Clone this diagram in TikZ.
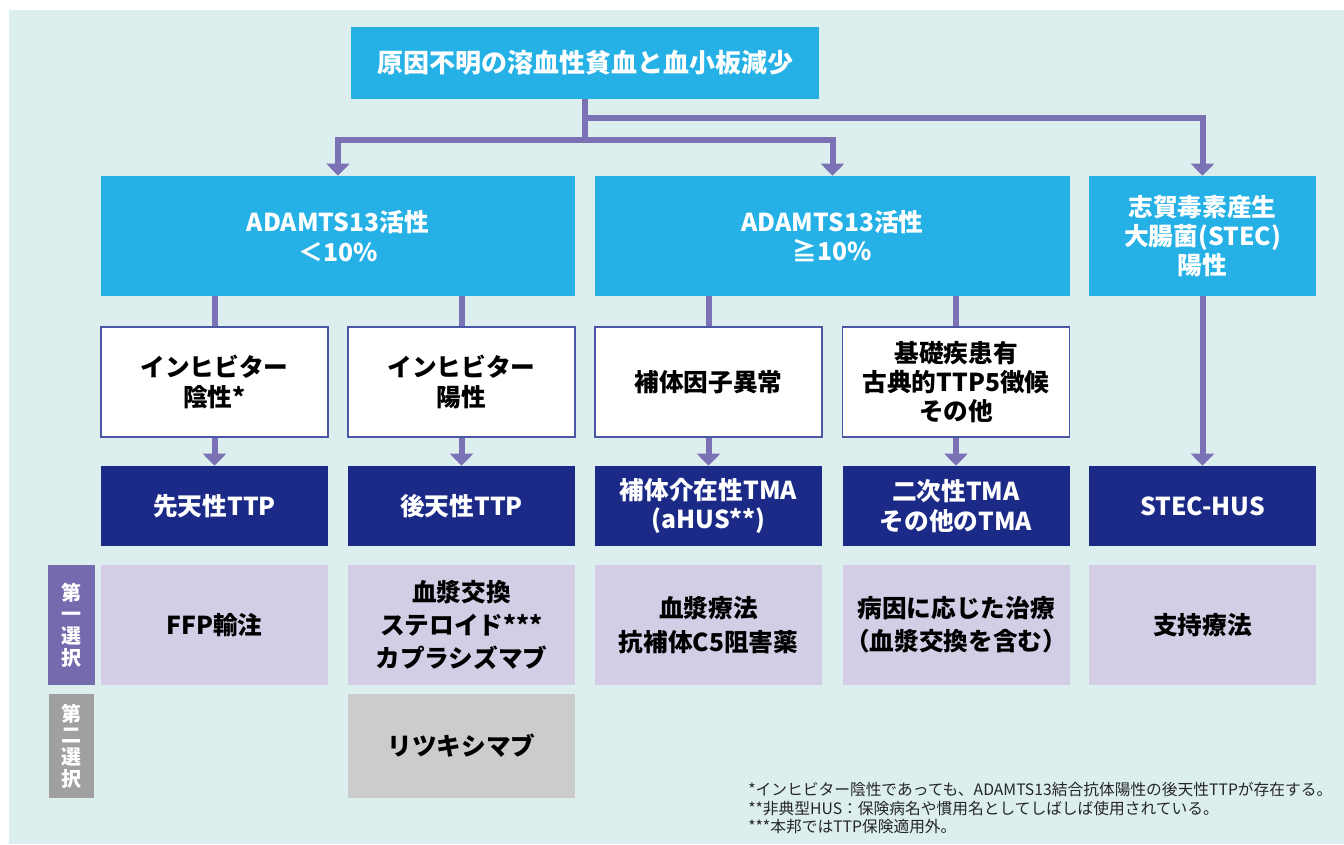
\documentclass[tikz,border=0pt]{standalone}
\usepackage{fontspec}
\setmainfont{Noto Sans CJK JP}
\usetikzlibrary{arrows.meta}
\definecolor{bgteal}{HTML}{DCEEEE}
\definecolor{skyblue}{HTML}{25B1E6}
\definecolor{navyblue}{HTML}{1B2A86}
\definecolor{lavender}{HTML}{D3CEE6}
\definecolor{linkpurple}{HTML}{7B71B5}
\definecolor{badgepurple}{HTML}{766AAF}
\definecolor{badgegrey}{HTML}{A0A0A0}
\definecolor{boxgrey}{HTML}{CCCCCC}
\definecolor{edgeblue}{HTML}{4A57A4}
\tikzset{
	flowbox/.style = {align=center, inner sep=0pt,
		font=\bfseries\fontsize{18.5}{22}\selectfont},
	pxsize/.style 2 args = {minimum width=#1*0.75pt, minimum height=#2*0.75pt},
	sky_b/.style = {flowbox, fill=skyblue, text=white},% boite bleu clair
	wht_b/.style = {flowbox, fill=white, draw=edgeblue, line width=1pt,
		pxsize={227}{110}},% boite blanche
	nav_b/.style = {flowbox, fill=navyblue, text=white, pxsize={227}{80}},% diagnostic
	lav_b/.style = {flowbox, fill=lavender, pxsize={227}{120},
		font=\bfseries\fontsize{18.5}{25}\selectfont},% premier choix
	gry_b/.style = {flowbox, fill=boxgrey, pxsize={227}{104}},% second choix
	badge/.style = {align=center, inner sep=0pt, text=white,
		font=\bfseries\fontsize{15}{16.3}\selectfont},
	link/.style = {draw=linkpurple, line width=4.5pt}
}
\begin{document}
\begin{tikzpicture}[x=0.75pt, y=-0.75pt,
	>={Triangle[width=17pt, length=9pt]}]
\useasboundingbox (0,0) rectangle (1344,844);
\fill[bgteal] (9,10) rectangle (1344,844);

% top
\node [sky_b, pxsize={468}{72}, font=\bfseries\fontsize{19.5}{24}\selectfont]
	(cause) at (585,63) {原因不明の溶血性貧血と血小板減少};

% ADAMTS13 / STEC
\node [sky_b, pxsize={474}{120}] (adlow)  at (338,236)    {ADAMTS13活性\\＜10\%};
\node [sky_b, pxsize={475}{120}] (adhigh) at (832.5,236)  {ADAMTS13活性\\≧10\%};
\node [sky_b, pxsize={227}{120}] (stec)   at (1202.5,236) {志賀毒素産生\\大腸菌(STEC)\\陽性};

% sous-groupes
\node [wht_b] (inhneg) at (214.5,382) {インヒビター\\陰性*};
\node [wht_b] (inhpos) at (461.5,382) {インヒビター\\陽性};
\node [wht_b] (compl)  at (708.5,382) {補体因子異常};
\node [wht_b] (other)  at (956,382)   {基礎疾患有\\古典的TTP5徴候\\その他};

% diagnostics
\node [nav_b] (congen)  at (214.5,506)  {先天性TTP};
\node [nav_b] (acq)     at (461.5,506)  {後天性TTP};
\node [nav_b] (ahus)    at (708.5,506)  {補体介在性TMA\\(aHUS**)};
\node [nav_b] (sectma)  at (956,506)    {二次性TMA\\その他のTMA};
\node [nav_b] (stechus) at (1202.5,506) {STEC-HUS};

% traitements
\node [badge, fill=badgepurple, pxsize={47}{120}] (first) at (71.5,625) {第\\一\\選\\択};
\node [lav_b] (ffp)     at (214.5,625)  {FFP輸注};
\node [lav_b] (pex)     at (461.5,625)  {血漿交換\\ステロイド***\\カプラシズマブ};
\node [lav_b] (plasma)  at (708.5,625)  {血漿療法\\抗補体C5阻害薬};
\node [lav_b] (treat)   at (956,625)    {病因に応じた治療\\（血漿交換を含む）};
\node [lav_b] (support) at (1202.5,625) {支持療法};
\node [badge, fill=badgegrey, pxsize={45}{104}] (second) at (71.5,746) {第\\二\\選\\択};
\node [gry_b] (ritux)   at (461.5,746)  {リツキシマブ};

% notes
\node [align=left, inner sep=0pt, anchor=west, text=black!85,
	font=\fontsize{11.8}{14}\selectfont] (foot) at (748,808)
	{*インヒビター陰性であっても、ADAMTS13結合抗体陽性の後天性TTPが存在する。\\
	 **非典型HUS：保険病名や慣用名としてしばしば使用されている。\\
	 ***本邦ではTTP保険適用外。};

% liens
\coordinate (split)  at (585,140);
\coordinate (splitR) at (585,118);
\draw [link] (cause.south) -- (split);
\draw [link,->] (split) -| (adlow.north);
\draw [link,->] (split) -| (adhigh.north);
\draw [link,->] (splitR) -| (stec.north);
\foreach \up/\sub/\dx in {adlow/inhneg/congen, adlow/inhpos/acq,
		adhigh/compl/ahus, adhigh/other/sectma}{
	\draw [link] (\sub.north |- \up.south) -- (\sub.north);
	\draw [link,->] (\sub.south) -- (\dx.north);
}
\draw [link,->] (stec.south) -- (stechus.north);
\end{tikzpicture}
\end{document}
